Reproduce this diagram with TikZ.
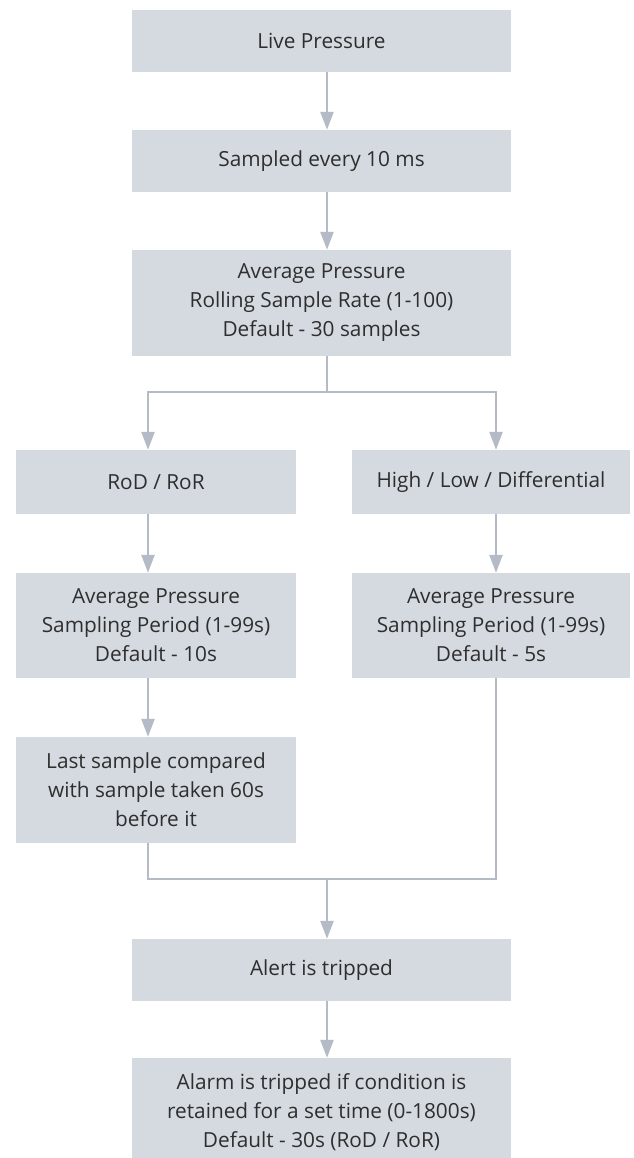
\documentclass[tikz,border=0pt]{standalone}
\usepackage{fontspec}
\setmainfont{Open Sans}
\usetikzlibrary{arrows.meta}
\definecolor{boxfill}{HTML}{D5DAE1}
\definecolor{linec}{HTML}{B4BBC6}
\definecolor{txt}{HTML}{2E2E2E}
\begin{document}
\begin{tikzpicture}[x=1pt,y=-1pt,
  box/.style={fill=boxfill, draw=none, inner sep=0pt, align=center, text=txt,
    font=\fontsize{20.8}{29}\selectfont},
  conn/.style={draw=linec, line width=2.5pt},
  arr/.style={conn, -{Triangle[length=18pt,width=13pt]}}]
\useasboundingbox (0,0) rectangle (633,1158);
\begin{scope}
\clip (0,0) rectangle (633,1158);
\node[box, minimum width=379pt, minimum height=62pt] (lp) at (321.5,41) {Live Pressure};
\node[box, minimum width=379pt, minimum height=62pt] (se) at (321.5,161) {Sampled every 10 ms};
\node[box, minimum width=379pt, minimum height=106pt] (ap) at (321.5,303) {Average Pressure\\Rolling Sample Rate (1-100)\\Default - 30 samples};
\node[box, minimum width=280pt, minimum height=64pt] (rod) at (156,482) {RoD / RoR};
\node[box, minimum width=278pt, minimum height=64pt] (hl) at (491,482) {High / Low / Differential};
\node[box, minimum width=280pt, minimum height=105pt] (apl) at (156,625.5) {Average Pressure\\Sampling Period (1-99s)\\Default - 10s};
\node[box, minimum width=278pt, minimum height=105pt] (apr) at (491,625.5) {Average Pressure\\Sampling Period (1-99s)\\Default - 5s};
\node[box, minimum width=280pt, minimum height=106pt] (ls) at (156,790) {Last sample compared\\with sample taken 60s\\before it};
\node[box, minimum width=379pt, minimum height=62pt] (at) at (321.5,970) {Alert is tripped};
\node[box, minimum width=379pt, minimum height=108pt] (al) at (321.5,1112) {Alarm is tripped if condition is\\retained for a set time (0-1800s)\\Default - 30s (RoD / RoR)};
\end{scope}
\coordinate (sp) at (327,392);
\coordinate (mg) at (327,879);
\draw[arr] ([xshift=5.5pt]lp.south) -- ([xshift=5.5pt]se.north);
\draw[arr] ([xshift=5.5pt]se.south) -- ([xshift=5.5pt]ap.north);
\draw[conn] ([xshift=5.5pt]ap.south) -- (sp);
\draw[arr] (sp) -| ([xshift=-8pt]rod.north);
\draw[arr] (sp) -| ([xshift=5pt]hl.north);
\draw[arr] ([xshift=-8pt]rod.south) -- ([xshift=-8pt]apl.north);
\draw[arr] ([xshift=5pt]hl.south) -- ([xshift=5pt]apr.north);
\draw[arr] ([xshift=-8pt]apl.south) -- ([xshift=-8pt]ls.north);
\draw[conn] ([xshift=-8pt]ls.south) |- (mg);
\draw[conn] ([xshift=5pt]apr.south) |- (mg);
\draw[arr] (mg) -- ([xshift=5.5pt]at.north);
\draw[arr] ([xshift=5.5pt]at.south) -- ([xshift=5.5pt]al.north);
\end{tikzpicture}
\end{document}
